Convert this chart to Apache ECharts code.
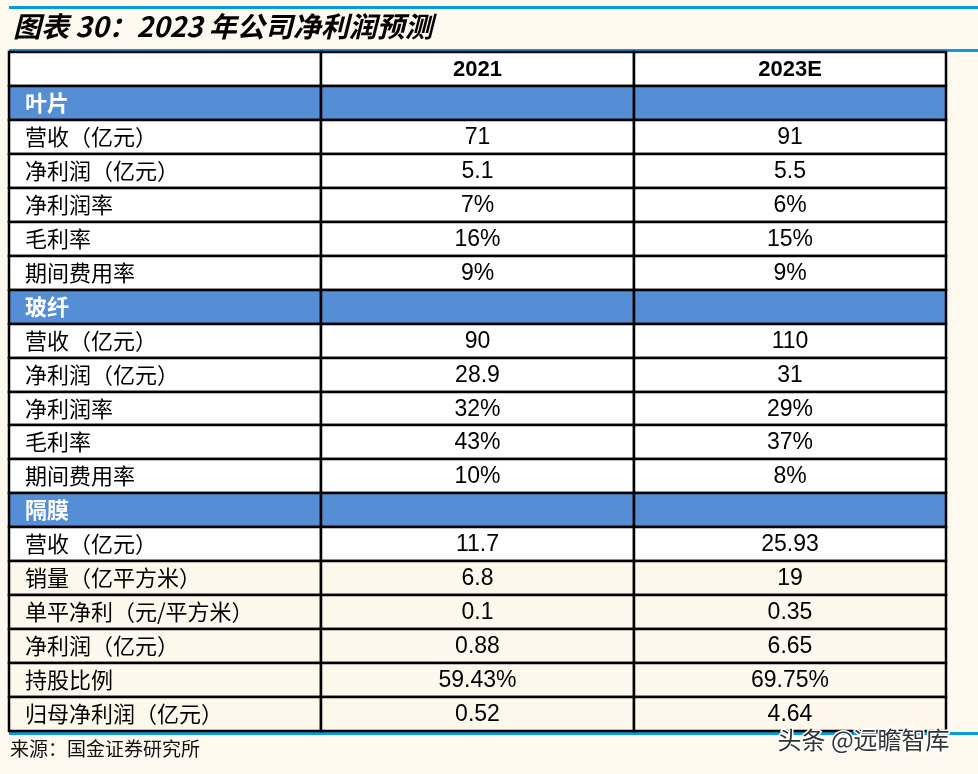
<!DOCTYPE html>
<html><head><meta charset="utf-8">
<script src="https://cdn.jsdelivr.net/npm/echarts@6/dist/echarts.min.js"></script>
<style>html,body{margin:0;padding:0;background:#FEF9EF;}#c{width:978px;height:774px;}</style>
</head><body><div id="c"></div>
<script>
const columns = ['', '2021', '2023E'];
const rowLabels = ['叶片','营收（亿元）','净利润（亿元）','净利润率','毛利率','期间费用率',
  '玻纤','营收（亿元）','净利润（亿元）','净利润率','毛利率','期间费用率',
  '隔膜','营收（亿元）','销量（亿平方米）','单平净利（元/平方米）','净利润（亿元）','持股比例','归母净利润（亿元）'];
const values2021 = ['', '71','5.1','7%','16%','9%', '', '90','28.9','32%','43%','10%', '', '11.7','6.8','0.1','0.88','59.43%','0.52'];
const values2023E = ['', '91','5.5','6%','15%','9%', '', '110','31','29%','37%','8%', '', '25.93','19','0.35','6.65','69.75%','4.64'];
const sectionRows = ['叶片','玻纤','隔膜'];
const creamFrom = 14; // rows from 销量 onwards have cream fill

const cells = [];
columns.forEach((c, ci) => cells.push([ci, 0, c, 'header']));
rowLabels.forEach((lab, i) => {
  const r = i + 1;
  const isSec = sectionRows.includes(lab) && values2021[i] === '';
  const kind = isSec ? 'section' : (i >= creamFrom ? 'cream' : 'body');
  cells.push([0, r, lab, kind]);
  cells.push([1, r, values2021[i], kind]);
  cells.push([2, r, values2023E[i], kind]);
});
const nRows = rowLabels.length + 1;

const chart = echarts.init(document.getElementById('c'), null, {renderer: 'canvas'});
const blue = '#0A9BDC';
chart.setOption({
  backgroundColor: '#FEF9EF',
  animation: false,
  title: {
    text: '图表 30：2023 年公司净利润预测',
    left: 8, top: 7,
    textStyle: {fontSize: 28, fontStyle: 'italic', fontWeight: 'bold', color: '#000', fontFamily: '"Noto Sans CJK SC", sans-serif'}
  },
  grid: {left: 9, right: 32, top: 52, bottom: 43},
  xAxis: {type: 'value', min: 0, max: columns.length, show: false},
  yAxis: {type: 'value', min: 0, max: nRows, inverse: true, show: false},
  graphic: [
    {type: 'rect', shape: {x: 9, y: 6, width: 969, height: 3}, style: {fill: blue}, z: 1},
    {type: 'rect', shape: {x: 9, y: 49, width: 969, height: 3}, style: {fill: blue}, z: 1},
    {type: 'rect', shape: {x: 9, y: 732, width: 969, height: 3}, style: {fill: blue}, z: 1},
    {type: 'text', left: 10, top: 739, style: {text: '来源：国金证券研究所', fontSize: 19, fill: '#111', fontFamily: '"Noto Sans CJK SC", serif'}, z: 5},
    {type: 'text', left: 776, top: 726, style: {text: '头条 @远瞻智库', fontSize: 24, fill: '#333', stroke: '#fff', lineWidth: 3, fontFamily: '"Noto Sans CJK SC", sans-serif'}, z: 20}
  ],
  series: [{
    type: 'custom',
    coordinateSystem: 'cartesian2d',
    encode: {x: 0, y: 1},
    data: cells,
    renderItem: function (params, api) {
      const ci = api.value(0), ri = api.value(1);
      const txt = cells[params.dataIndex][2];
      const kind = cells[params.dataIndex][3];
      const p0 = api.coord([ci, ri]);
      const p1 = api.coord([ci + 1, ri + 1]);
      const x = Math.round(p0[0]), y = Math.round(p0[1]);
      const w = Math.round(p1[0]) - x, h = Math.round(p1[1]) - y;
      let fill = '#FFFFFF';
      if (kind === 'section') fill = '#558ED5';
      else if (kind === 'cream') fill = '#FEF8EC';
      const children = [{
        type: 'rect', shape: {x: x, y: y, width: w, height: h},
        style: {fill: fill, stroke: '#000', lineWidth: 2.5}
      }];
      if (txt) {
        const isLabel = ci === 0;
        let st = {
          text: txt,
          x: isLabel ? x + 16 : x + w / 2,
          y: y + h / 2 + 1,
          align: isLabel ? 'left' : 'center',
          verticalAlign: 'middle',
          fill: '#000'
        };
        if (kind === 'header') {
          Object.assign(st, {fontSize: 22, fontWeight: 'bold', fontFamily: '"Liberation Sans", Arial, sans-serif'});
        } else if (isLabel) {
          Object.assign(st, {fontSize: 22, fontFamily: '"Noto Sans CJK SC", serif', y: y + h / 2});
          if (kind === 'section') Object.assign(st, {fill: '#fff', fontWeight: 'bold'});
        } else {
          Object.assign(st, {fontSize: 23, fontFamily: '"Liberation Sans", Arial, sans-serif'});
        }
        children.push({type: 'text', style: st, z2: 10});
      }
      return {type: 'group', children: children};
    }
  }]
});
</script>
</body></html>
